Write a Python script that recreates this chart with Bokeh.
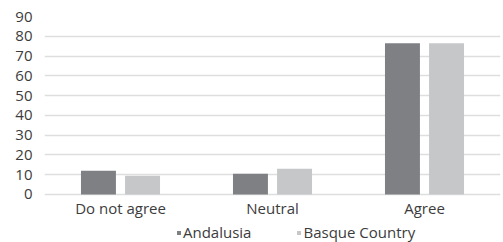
from bokeh.plotting import figure
from bokeh.models import FactorRange, ColumnDataSource, Legend, LegendItem, FixedTicker
from bokeh.core.properties import value
from bokeh.transform import dodge
from bokeh.embed import file_html
from bokeh.resources import INLINE

categories = ["Do not agree", "Neutral", "Agree"]
andalusia = [12, 10.5, 76.5]
basque = [9.5, 13, 76.5]
series_names = ["Andalusia", "Basque Country"]
y_ticks = [0, 10, 20, 30, 40, 50, 60, 70, 80, 90]

src = ColumnDataSource(dict(cat=categories, a=andalusia, b=basque))

FONT = "Open Sans"
TXT = "#3c3c3c"

# frame extends below zero so category labels and legend live inside it
Y_BOTTOM = -24.27
LABEL_Y = -6.6

p = figure(x_range=FactorRange(*categories, range_padding=0), y_range=(Y_BOTTOM, 90),
           frame_width=456, frame_height=226, output_backend="svg", toolbar_location=None,
           min_border_left=44, min_border_right=2, min_border_top=16, min_border_bottom=0)

r1 = p.vbar(x=dodge("cat", -0.145, range=p.x_range), top="a", width=0.23, source=src,
            fill_color="#7f8084", line_color=None)
r2 = p.vbar(x=dodge("cat", 0.145, range=p.x_range), top="b", width=0.23, source=src,
            fill_color="#c6c7c9", line_color=None)

p.text(x="cat", y=LABEL_Y, text="cat", source=src, text_align="center",
       text_baseline="middle", text_font=value(FONT), text_font_size="15px",
       text_color=TXT)

p.outline_line_color = None
p.xgrid.grid_line_color = None
p.xaxis.visible = False
p.ygrid.grid_line_color = "#dedede"
p.ygrid.grid_line_width = 1.5
p.yaxis.ticker = FixedTicker(ticks=y_ticks)
ax = p.yaxis[0]
ax.axis_line_color = None
ax.major_tick_line_color = None
ax.minor_tick_line_color = None
ax.major_tick_out = 0
ax.major_tick_in = 0
ax.minor_tick_out = 0
ax.minor_tick_in = 0
ax.major_label_text_font = FONT
ax.major_label_text_color = TXT
ax.major_label_text_font_size = "15px"
ax.major_label_standoff = 12

legend = Legend(items=[LegendItem(label=series_names[0], renderers=[r1]),
                       LegendItem(label=series_names[1], renderers=[r2])],
                orientation="horizontal", location=(132, 0),
                label_text_font=FONT, label_text_font_size="15px", label_text_color=TXT,
                glyph_width=5, glyph_height=5, label_standoff=2, spacing=45,
                label_height=5, padding=0, margin=0, border_line_color=None,
                background_fill_alpha=0)
p.add_layout(legend, "center")

open("out.html", "w").write(file_html(p, INLINE))
